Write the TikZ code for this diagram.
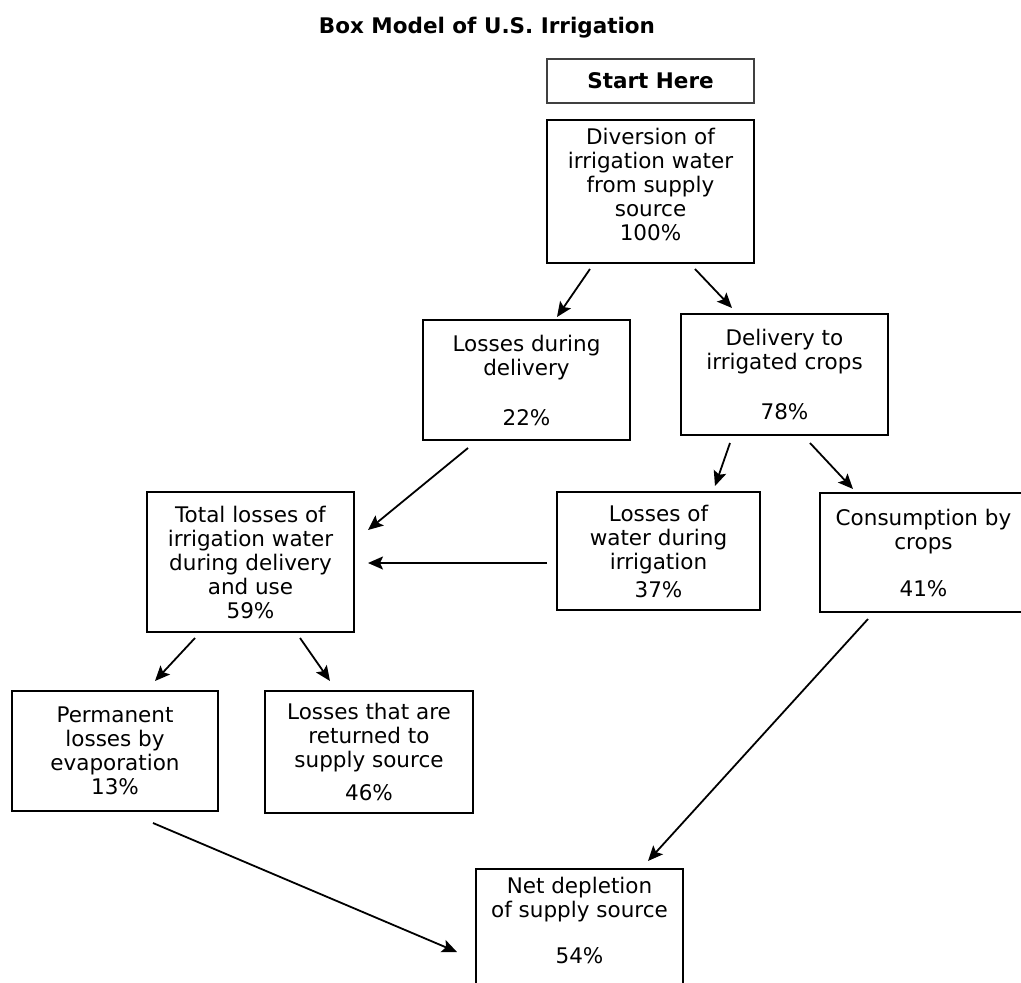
\documentclass[tikz,border=0pt]{standalone}
\usepackage{fontspec}
\setmainfont{DejaVu Sans}
\usetikzlibrary{arrows.meta,positioning}

\begin{document}
\begin{tikzpicture}[x=1pt,y=-1pt,>={Stealth[length=15pt,width=13pt,inset=3pt]},
 font=\fontsize{21.5}{24}\selectfont,
 box/.style={draw=black,line width=2pt,align=center,inner sep=0pt,
  minimum width=207pt,minimum height=#1},
 box/.default=120pt,
 arr/.style={->,draw=black,line width=1.8pt}]
\useasboundingbox (0,0) rectangle (1021,983);
\node[anchor=base] (title) at (487,33) {\textbf{Box Model of U.S. Irrigation}};
\node[box=44pt,draw=black!75,line width=1.3pt] (start) at (650.5,81) {\textbf{Start Here}};
\node[box=143pt,text depth=15pt] (div) at (650.5,191.5) {Diversion of\\irrigation water\\from supply\\source\\100\%};
\node[box] (ldel) at (526.5,380) {Losses during\\delivery\\[26pt]22\%};
\node[box=121pt] (deliv) at (784.5,374.5) {Delivery to\\irrigated crops\\[26pt]78\%};
\node[box=140pt] (total) at (250.5,562) {Total losses of\\irrigation water\\during delivery\\and use\\59\%};
\node[box=118pt,minimum width=203pt] (lwat) at (658.5,551) {Losses of\\water during\\irrigation\\[4pt]37\%};
\node[box=119pt] (cons) at (923.5,552.5) {Consumption by\\crops\\[23pt]41\%};
\node[box,minimum width=206pt] (perm) at (115,751) {Permanent\\losses by\\evaporation\\13\%};
\node[box=122pt,minimum width=208pt] (ret) at (369,752) {Losses that are\\returned to\\supply source\\[9pt]46\%};
\node[box,text depth=18pt] (net) at (579.5,929) {Net depletion\\of supply source\\[22pt]54\%};
\draw[arr] ([xshift=-60.5pt,yshift=-5pt]div.south) -- ([xshift=30.5pt,yshift=2pt]ldel.north);
\draw[arr] ([xshift=44.5pt,yshift=-5pt]div.south) -- ([xshift=-52.5pt,yshift=5pt]deliv.north);
\draw[arr] ([xshift=-58.5pt,yshift=-7pt]ldel.south) -- ([xshift=13pt,yshift=32pt]total.east);
\draw[arr] ([xshift=-54.5pt,yshift=-7pt]deliv.south) -- ([xshift=56.5pt,yshift=5pt]lwat.north);
\draw[arr] ([xshift=25.5pt,yshift=-7pt]deliv.south) -- ([xshift=-70.5pt,yshift=3pt]cons.north);
\draw[arr] ([xshift=-9pt,yshift=-12pt]lwat.west) -- ([xshift=13pt,yshift=-1pt]total.east);
\draw[arr] ([xshift=-55.5pt,yshift=-5pt]total.south) -- ([xshift=40pt,yshift=9pt]perm.north);
\draw[arr] ([xshift=49.5pt,yshift=-5pt]total.south) -- ([xshift=-39pt,yshift=9pt]ret.north);
\draw[arr] ([xshift=-55.5pt,yshift=-6pt]cons.south) -- ([xshift=68.5pt,yshift=7pt]net.north);
\draw[arr] ([xshift=38pt,yshift=-11pt]perm.south) -- ([xshift=-18pt,yshift=-23pt]net.west);
\end{tikzpicture}
\end{document}
